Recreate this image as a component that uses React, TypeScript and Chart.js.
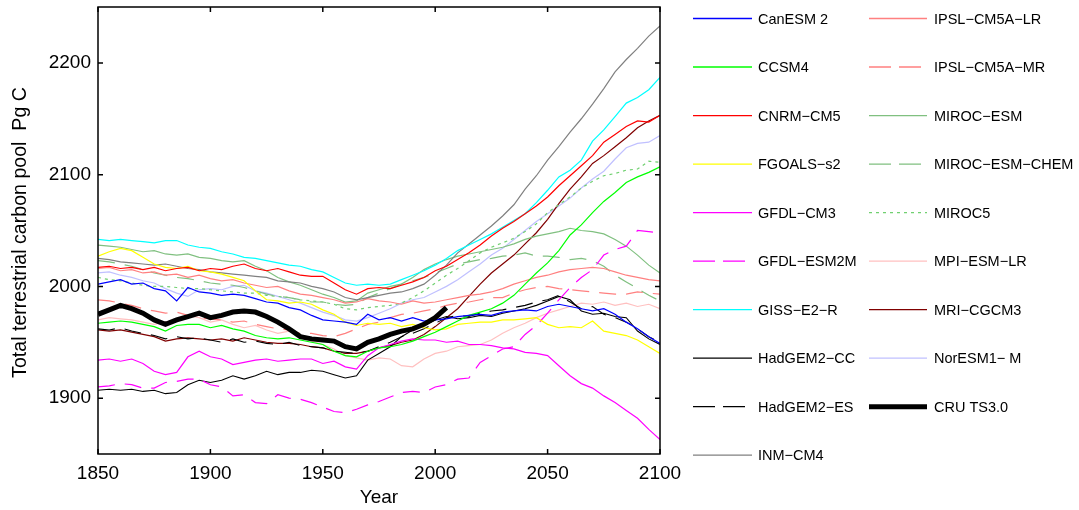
import React, { useEffect, useRef } from "react";
import { Chart, registerables } from "chart.js";
Chart.register(...registerables);

const FONT = "'Liberation Sans', Arial, Helvetica, sans-serif";

const years = [
  1850, 1855, 1860, 1865, 1870, 1875, 1880, 1885, 1890, 1895,
  1900, 1905, 1910, 1915, 1920, 1925, 1930, 1935, 1940, 1945,
  1950, 1955, 1960, 1965, 1970, 1975, 1980, 1985, 1990, 1995,
  2000, 2005, 2010, 2015, 2020, 2025, 2030, 2035, 2040, 2045,
  2050, 2055, 2060, 2065, 2070, 2075, 2080, 2085, 2090, 2095, 2100,
];

const xTicks = [1850, 1900, 1950, 2000, 2050, 2100];
const yTicks = [1900, 2000, 2100, 2200];

const canesm2 = [2002, 2004, 2006, 2002, 2003, 1998, 1996, 1987, 1999, 1995, 1994, 1992, 1993, 1992, 1989, 1986, 1985, 1981, 1979, 1974, 1970, 1969, 1968, 1966, 1975, 1970, 1972, 1969, 1972, 1969, 1970, 1971, 1973, 1974, 1975, 1974, 1977, 1978, 1979, 1978, 1982, 1984, 1982, 1980, 1978, 1980, 1975, 1968, 1962, 1955, 1949];
const ccsm4 = [1967, 1968, 1969, 1968, 1966, 1964, 1960, 1965, 1966, 1966, 1963, 1965, 1962, 1960, 1956, 1954, 1953, 1954, 1952, 1950, 1948, 1942, 1938, 1937, 1942, 1945, 1946, 1948, 1951, 1955, 1959, 1964, 1969, 1974, 1977, 1980, 1985, 1992, 2002, 2012, 2021, 2032, 2046, 2055, 2066, 2076, 2084, 2093, 2098, 2102, 2107];
const cnrmCm5 = [2017, 2018, 2016, 2017, 2015, 2017, 2014, 2016, 2017, 2014, 2016, 2015, 2018, 2020, 2016, 2014, 2016, 2013, 2010, 2009, 2009, 2003, 1997, 1993, 1998, 1999, 1998, 2001, 2004, 2008, 2014, 2018, 2024, 2030, 2037, 2045, 2052, 2058, 2065, 2072, 2080, 2090, 2099, 2108, 2117, 2129, 2136, 2143, 2148, 2147, 2153];
const fgoalsS2 = [2027, 2031, 2034, 2032, 2026, 2020, 2017, 2016, 2018, 2014, 2013, 2011, 2008, 2005, 1996, 1988, 1987, 1985, 1986, 1984, 1979, 1975, 1968, 1965, 1967, 1966, 1967, 1964, 1966, 1963, 1961, 1962, 1966, 1967, 1968, 1968, 1970, 1970, 1971, 1972, 1966, 1963, 1964, 1963, 1969, 1960, 1958, 1956, 1952, 1946, 1940];
const gfdlCm3 = [1934, 1935, 1933, 1935, 1931, 1924, 1921, 1923, 1937, 1942, 1937, 1935, 1930, 1932, 1934, 1935, 1933, 1934, 1935, 1935, 1931, 1933, 1928, 1926, 1938, 1945, 1948, 1951, 1953, 1952, 1952, 1950, 1951, 1948, 1948, 1947, 1945, 1944, 1941, 1940, 1938, 1929, 1920, 1913, 1909, 1902, 1896, 1889, 1882, 1872, 1863];
const gfdlEsm2m = [1910, 1911, 1913, 1912, 1909, 1909, 1914, 1915, 1917, 1917, 1912, 1910, 1902, 1903, 1896, 1895, 1903, 1900, 1899, 1896, 1892, 1888, 1887, 1890, 1894, 1897, 1901, 1905, 1906, 1905, 1910, 1912, 1917, 1918, 1932, 1938, 1944, 1946, 1957, 1965, 1976, 1988, 1999, 2008, 2015, 2028, 2033, 2036, 2050, 2049, 2048];
const gissE2R = [2042, 2041, 2042, 2041, 2040, 2039, 2041, 2041, 2037, 2035, 2034, 2031, 2029, 2026, 2025, 2023, 2021, 2019, 2018, 2015, 2013, 2008, 2003, 2001, 2002, 2001, 2002, 2006, 2010, 2014, 2019, 2025, 2032, 2037, 2042, 2047, 2053, 2059, 2065, 2075, 2086, 2098, 2104, 2113, 2130, 2140, 2152, 2164, 2169, 2176, 2187];
const hadgem2Cc = [1907, 1908, 1907, 1908, 1906, 1907, 1904, 1905, 1912, 1916, 1914, 1916, 1920, 1917, 1920, 1924, 1921, 1923, 1923, 1925, 1924, 1921, 1918, 1920, 1934, 1940, 1946, 1955, 1961, 1965, 1970, 1973, 1971, 1972, 1974, 1973, 1976, 1978, 1980, 1983, 1987, 1991, 1988, 1978, 1975, 1976, 1973, 1972, 1960, 1953, 1948];
const hadgem2Es = [1962, 1961, 1963, 1960, 1958, 1956, 1953, 1955, 1953, 1954, 1952, 1950, 1953, 1950, 1951, 1949, 1948, 1950, 1947, 1946, 1945, 1942, 1941, 1940, 1942, 1946, 1950, 1955, 1958, 1962, 1967, 1972, 1974, 1973, 1976, 1978, 1979, 1981, 1983, 1986, 1988, 1992, 1986, 1980, 1982, 1975, 1972, 1968, 1962, 1955, 1950];
const inmCm4 = [2025, 2024, 2022, 2021, 2020, 2019, 2020, 2018, 2016, 2015, 2013, 2012, 2011, 2010, 2009, 2008, 2005, 2004, 2003, 2000, 1998, 1995, 1990, 1988, 1990, 1992, 1994, 1995, 1998, 2002, 2010, 2019, 2030, 2038, 2046, 2054, 2063, 2073, 2087, 2099, 2113, 2125, 2138, 2150, 2163, 2177, 2192, 2203, 2213, 2224, 2233];
const ipslLr = [2016, 2017, 2014, 2015, 2012, 2013, 2010, 2011, 2008, 2010, 2007, 2005, 2006, 2003, 2001, 1999, 2000, 1996, 1993, 1992, 1990, 1988, 1985, 1986, 1989, 1987, 1986, 1984, 1987, 1985, 1986, 1988, 1990, 1992, 1993, 1995, 1998, 2002, 2005, 2008, 2010, 2013, 2015, 2016, 2017, 2016, 2013, 2010, 2008, 2006, 2005];
const ipslMr = [1988, 1987, 1985, 1983, 1980, 1978, 1976, 1977, 1974, 1972, 1971, 1970, 1968, 1969, 1966, 1964, 1962, 1961, 1958, 1958, 1956, 1955, 1958, 1962, 1966, 1968, 1972, 1975, 1976, 1978, 1980, 1983, 1985, 1986, 1988, 1990, 1990, 1994, 1997, 1999, 2000, 1998, 1997, 1996, 1995, 1994, 1993, 1993, 1995, 1994, 1993];
const mirocEsm = [2037, 2036, 2035, 2033, 2031, 2032, 2029, 2028, 2029, 2026, 2025, 2023, 2022, 2023, 2018, 2014, 2008, 2004, 2001, 1997, 1993, 1990, 1986, 1987, 1994, 1997, 2000, 2002, 2008, 2015, 2020, 2024, 2027, 2029, 2031, 2033, 2035, 2038, 2042, 2045, 2047, 2049, 2052, 2050, 2049, 2047, 2042, 2036, 2028, 2019, 2012];
const mirocEsmChem = [2023, 2022, 2020, 2018, 2015, 2012, 2010, 2008, 2007, 2005, 2003, 2002, 2001, 1999, 1996, 1993, 1991, 1990, 1988, 1986, 1986, 1984, 1983, 1984, 1990, 1994, 1998, 2002, 2005, 2008, 2012, 2016, 2020, 2022, 2024, 2025, 2027, 2028, 2030, 2027, 2027, 2026, 2024, 2025, 2023, 2018, 2010, 2004, 1998, 1992, 1987];
const miroc5 = [2008, 2006, 2005, 2003, 2001, 2000, 2000, 1999, 1998, 1998, 1997, 1996, 1995, 1994, 1994, 1992, 1991, 1990, 1988, 1987, 1986, 1984, 1980, 1979, 1981, 1982, 1983, 1985, 1990, 1996, 2003, 2010, 2016, 2023, 2030, 2035, 2039, 2043, 2049, 2056, 2066, 2073, 2080, 2088, 2094, 2099, 2101, 2104, 2105, 2112, 2111];
const mpiEsmLr = [1970, 1972, 1971, 1970, 1968, 1966, 1968, 1970, 1974, 1972, 1968, 1970, 1966, 1963, 1965, 1961, 1958, 1960, 1955, 1951, 1948, 1944, 1938, 1936, 1934, 1936, 1935, 1929, 1928, 1935, 1940, 1942, 1946, 1947, 1948, 1952, 1958, 1963, 1967, 1972, 1976, 1979, 1982, 1985, 1984, 1986, 1983, 1985, 1982, 1984, 1980];
const mriCgcm3 = [1961, 1960, 1961, 1959, 1957, 1955, 1951, 1953, 1954, 1953, 1952, 1953, 1951, 1954, 1952, 1950, 1949, 1949, 1948, 1946, 1945, 1942, 1940, 1940, 1942, 1945, 1947, 1950, 1952, 1957, 1964, 1972, 1980, 1991, 2002, 2012, 2020, 2028, 2038, 2048, 2060, 2074, 2087, 2098, 2110, 2117, 2125, 2133, 2142, 2148, 2153];
const norEsm1M = [2012, 2013, 2010, 2008, 2005, 2003, 1998, 1994, 1991, 1997, 1998, 1997, 2000, 2001, 1996, 1994, 1991, 1988, 1985, 1981, 1977, 1974, 1970, 1969, 1972, 1976, 1980, 1985, 1988, 1990, 1995, 2000, 2006, 2013, 2020, 2028, 2034, 2042, 2050, 2058, 2065, 2072, 2079, 2088, 2096, 2103, 2114, 2124, 2128, 2129, 2135];
const cruTs30 = [1975, 1979, 1983, 1980, 1976, 1970, 1966, 1970, 1973, 1976, 1972, 1974, 1977, 1978, 1977, 1973, 1968, 1962, 1955, 1953, 1952, 1951, 1946, 1944, 1950, 1953, 1957, 1960, 1962, 1966, 1972, 1981];

type Def = { label: string; values: number[]; color: string; width: number; dash: number[]; legendDash: number[] };

const DASH = [17, 10];
const LDASH = [22, 8];
const DOT = [3, 4];

const column1: Def[] = [
  { label: "CanESM 2", values: canesm2, color: "#0000ff", width: 1.2, dash: [], legendDash: [] },
  { label: "CCSM4", values: ccsm4, color: "#00ff00", width: 1.2, dash: [], legendDash: [] },
  { label: "CNRM\u2212CM5", values: cnrmCm5, color: "#ff0000", width: 1.2, dash: [], legendDash: [] },
  { label: "FGOALS\u2212s2", values: fgoalsS2, color: "#ffff00", width: 1.2, dash: [], legendDash: [] },
  { label: "GFDL\u2212CM3", values: gfdlCm3, color: "#ff00ff", width: 1.2, dash: [], legendDash: [] },
  { label: "GFDL\u2212ESM2M", values: gfdlEsm2m, color: "#ff00ff", width: 1.2, dash: DASH, legendDash: LDASH },
  { label: "GISS\u2212E2\u2212R", values: gissE2R, color: "#00ffff", width: 1.2, dash: [], legendDash: [] },
  { label: "HadGEM2\u2212CC", values: hadgem2Cc, color: "#000000", width: 1.1, dash: [], legendDash: [] },
  { label: "HadGEM2\u2212ES", values: hadgem2Es, color: "#000000", width: 1.1, dash: DASH, legendDash: LDASH },
  { label: "INM\u2212CM4", values: inmCm4, color: "#808080", width: 1.2, dash: [], legendDash: [] },
];
const column2: Def[] = [
  { label: "IPSL\u2212CM5A\u2212LR", values: ipslLr, color: "#ff8080", width: 1.2, dash: [], legendDash: [] },
  { label: "IPSL\u2212CM5A\u2212MR", values: ipslMr, color: "#ff8080", width: 1.2, dash: DASH, legendDash: LDASH },
  { label: "MIROC\u2212ESM", values: mirocEsm, color: "#80c080", width: 1.2, dash: [], legendDash: [] },
  { label: "MIROC\u2212ESM\u2212CHEM", values: mirocEsmChem, color: "#80c080", width: 1.2, dash: DASH, legendDash: LDASH },
  { label: "MIROC5", values: miroc5, color: "#70d070", width: 1.2, dash: DOT, legendDash: DOT },
  { label: "MPI\u2212ESM\u2212LR", values: mpiEsmLr, color: "#ffc0c0", width: 1.2, dash: [], legendDash: [] },
  { label: "MRI\u2212CGCM3", values: mriCgcm3, color: "#800000", width: 1.2, dash: [], legendDash: [] },
  { label: "NorESM1\u2212 M", values: norEsm1M, color: "#c0c0ff", width: 1.2, dash: [], legendDash: [] },
  { label: "CRU TS3.0", values: cruTs30, color: "#000000", width: 5, dash: [], legendDash: [] },
];

export default function App() {
  const ref = useRef<HTMLCanvasElement>(null);

  useEffect(() => {
    if (!ref.current) return;
    const all = [...column1, ...column2];
    const datasets = all.map((d) => ({
      label: d.label,
      data: d.values.map((v, i) => ({ x: years[i], y: v })),
      borderColor: d.color,
      backgroundColor: d.color,
      borderWidth: d.width,
      borderDash: d.dash,
      pointRadius: 0,
      tension: 0,
      fill: false,
      order: d.label === "CRU TS3.0" ? 0 : 1,
    }));

    const frame = {
      id: "frame",
      afterDraw(chart: any) {
        const ctx = chart.ctx as CanvasRenderingContext2D;
        const a = chart.chartArea;
        const xs = chart.scales.x;
        const ys = chart.scales.y;
        ctx.save();
        ctx.strokeStyle = "#000";
        ctx.lineWidth = 1.5;
        ctx.setLineDash([]);
        ctx.strokeRect(a.left, a.top, a.right - a.left, a.bottom - a.top);
        const tl = 5;
        ctx.beginPath();
        xTicks.forEach((t) => {
          const px = xs.getPixelForValue(t);
          ctx.moveTo(px, a.bottom);
          ctx.lineTo(px, a.bottom - tl);
          ctx.moveTo(px, a.top);
          ctx.lineTo(px, a.top + tl);
        });
        yTicks.forEach((t) => {
          const py = ys.getPixelForValue(t);
          ctx.moveTo(a.left, py);
          ctx.lineTo(a.left + tl, py);
          ctx.moveTo(a.right, py);
          ctx.lineTo(a.right - tl, py);
        });
        ctx.stroke();

        // axis titles
        ctx.fillStyle = "#000";
        ctx.font = `19px ${FONT}`;
        ctx.textAlign = "center";
        ctx.textBaseline = "middle";
        ctx.fillText("Year", (a.left + a.right) / 2, 498);
        ctx.save();
        ctx.translate(20.5, (a.top + a.bottom) / 2 + 2);
        ctx.rotate(-Math.PI / 2);
        ctx.font = `19.6px ${FONT}`;
        ctx.fillText("Total terrestrial carbon pool  Pg C", 0, 0);
        ctx.restore();

        // legend
        const cols = [
          { defs: column1, x0: 693, x1: 752, tx: 758 },
          { defs: column2, x0: 869, x1: 927, tx: 934 },
        ];
        ctx.font = `14.5px ${FONT}`;
        ctx.textAlign = "left";
        cols.forEach((c) => {
          c.defs.forEach((d, i) => {
            const y = 18.5 + i * 48.52;
            ctx.beginPath();
            ctx.strokeStyle = d.color;
            ctx.lineWidth = d.width > 2 ? 5 : 1.3;
            ctx.setLineDash(d.legendDash);
            ctx.moveTo(c.x0, y);
            ctx.lineTo(c.x1, y);
            ctx.stroke();
            ctx.setLineDash([]);
            ctx.fillStyle = "#000";
            ctx.fillText(d.label, c.tx, y + 1);
          });
        });
        ctx.restore();
      },
    };

    const tickFont = { size: 19, family: FONT };
    const chart = new Chart(ref.current, {
      type: "line",
      data: { datasets: datasets as any },
      options: {
        responsive: false,
        animation: false,
        devicePixelRatio: 1,
        layout: { padding: { left: 0, top: 7, right: 419, bottom: 0 } },
        plugins: { legend: { display: false }, tooltip: { enabled: false } },
        elements: { point: { radius: 0 }, line: { tension: 0 } },
        scales: {
          x: {
            type: "linear",
            min: 1850,
            max: 2100,
            afterBuildTicks: (s: any) => {
              s.ticks = xTicks.map((v) => ({ value: v }));
            },
            afterFit: (s: any) => {
              s.height = 56;
              s.paddingLeft = 0;
              s.paddingRight = 0;
            },
            ticks: {
              callback: (v: any) => String(v),
              color: "#000",
              font: tickFont,
              padding: 8,
              maxRotation: 0,
              autoSkip: false,
            },
            grid: { display: false, drawTicks: false },
            border: { display: false },
          },
          y: {
            type: "linear",
            min: 1850,
            max: 2250,
            afterBuildTicks: (s: any) => {
              s.ticks = yTicks.map((v) => ({ value: v }));
            },
            afterFit: (s: any) => {
              s.width = 98;
              s.paddingTop = 0;
              s.paddingBottom = 0;
            },
            ticks: {
              callback: (v: any) => String(v),
              color: "#000",
              font: tickFont,
              padding: 7,
              autoSkip: false,
            },
            grid: { display: false, drawTicks: false },
            border: { display: false },
          },
        },
      },
      plugins: [frame],
    });
    return () => chart.destroy();
  }, []);

  return (
    <div style={{ position: "fixed", left: 0, top: 0, width: 1079, height: 510, background: "#fff" }}>
      <canvas ref={ref} width={1079} height={510} style={{ display: "block", width: 1079, height: 510 }} />
    </div>
  );
}
